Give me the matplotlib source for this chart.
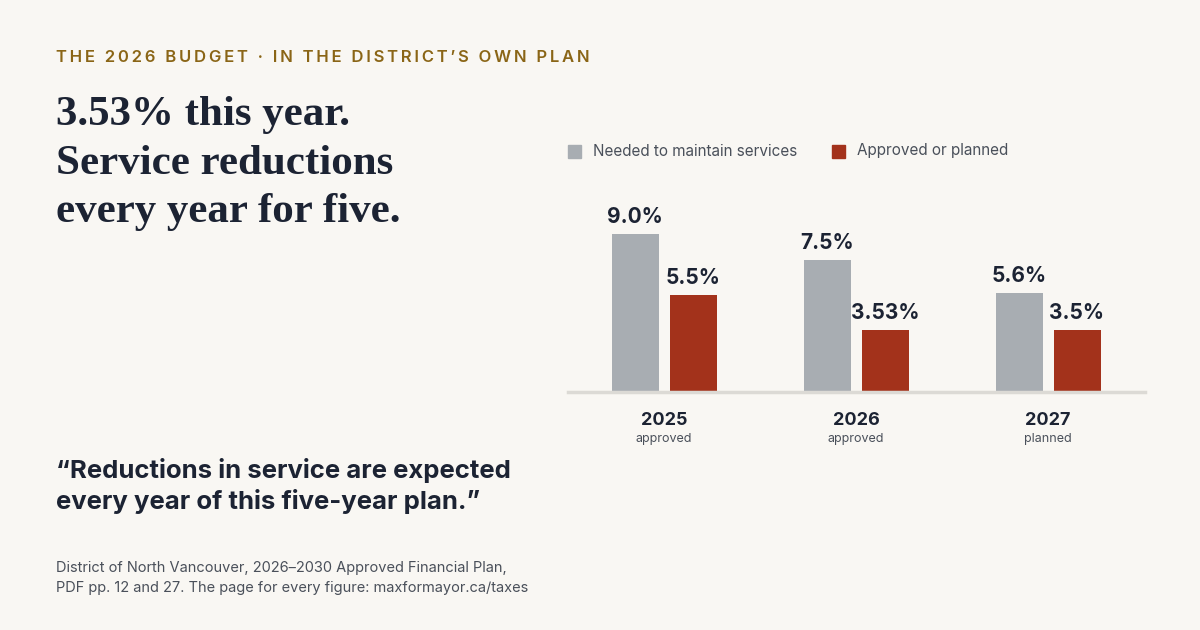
import matplotlib.pyplot as plt
import numpy as np

plt.rcParams["font.family"] = ["Inter", "DejaVu Sans"]

years = ["2025", "2026", "2027"]
statuses = ["approved", "approved", "planned"]
needed = [9.0, 7.5, 5.6]
approved = [5.5, 3.53, 3.5]
needed_labels = ["9.0%", "7.5%", "5.6%"]
approved_labels = ["5.5%", "3.53%", "3.5%"]

BG = "#f9f7f3"
GRAY = "#a8adb2"
RED = "#a3321b"
INK = "#1c2333"
GOLD = "#8a6516"
MUTED = "#4a505a"

W, H = 1200, 630
fig = plt.figure(figsize=(12, 6.3), dpi=100, facecolor=BG)


def fx(px):
    return px / W


def fy(py):
    return 1 - py / H


# letter-spaced eyebrow
eyebrow = "THE 2026 BUDGET · IN THE DISTRICT\u2019S OWN PLAN"
fig.text(fx(56), fy(58), "\u200a\u200a".join(eyebrow), color=GOLD,
         fontsize=12, fontweight="semibold", va="center", ha="left")
fig.text(fx(56), fy(96), "3.53% this year.\nService reductions\nevery year for five.",
         family=["Liberation Serif", "DejaVu Serif"], fontsize=31, fontweight="bold", color=INK,
         va="top", ha="left", linespacing=1.37)
fig.text(fx(56), fy(486), "\u201cReductions in service are expected\nevery year of this five-year plan.\u201d",
         fontsize=18.5, fontweight="bold", color=INK, va="center", ha="left", linespacing=1.3)
fig.text(fx(56), fy(578), "District of North Vancouver, 2026\u20132030 Approved Financial Plan,\n"
         "PDF pp. 12 and 27. The page for every figure: maxformayor.ca/taxes",
         fontsize=10.5, color=MUTED, va="center", ha="left", linespacing=1.6)

# legend
fig.patches.append(plt.Rectangle((fx(568), fy(158)), 13 / W, 13 / H, transform=fig.transFigure,
                                 color=GRAY, figure=fig))
fig.text(fx(593), fy(151), "Needed to maintain services", fontsize=11, color=MUTED, va="center")
fig.patches.append(plt.Rectangle((fx(832), fy(158)), 13 / W, 13 / H, transform=fig.transFigure,
                                 color=RED, figure=fig))
fig.text(fx(857), fy(151), "Approved or planned", fontsize=11, color=MUTED, va="center")

ax = fig.add_axes([fx(568), fy(392), (1145 - 568) / W, 192 / H])
ax.set_facecolor(BG)
x = np.arange(len(years))
bw = 47 / 192
off = 29 / 192
ax.bar(x - off, needed, bw, color=GRAY)
ax.bar(x + off, approved, bw, color=RED)
for i in range(len(years)):
    ax.text(x[i] - off, needed[i] + 0.4, needed_labels[i], ha="center", va="bottom",
            fontsize=15, fontweight="bold", color=INK)
    ax.text(x[i] + off, approved[i] + 0.4, approved_labels[i], ha="center", va="bottom",
            fontsize=15, fontweight="bold", color=INK)
    ax.text(x[i], -1.15, years[i], ha="center", va="top", fontsize=13, fontweight="bold", color=INK)
    ax.text(x[i], -2.35, statuses[i], ha="center", va="top", fontsize=9, color=MUTED)
ax.set_xlim((568 - 664) / 192, (1145 - 664) / 192)
ax.set_ylim(0, 192 / 17.6)
ax.axhline(0, color="#dcdad5", lw=2.5, clip_on=False)
for s in ax.spines.values():
    s.set_visible(False)
ax.set_xticks([])
ax.set_yticks([])

fig.savefig("out.png", dpi=100, facecolor=BG)
